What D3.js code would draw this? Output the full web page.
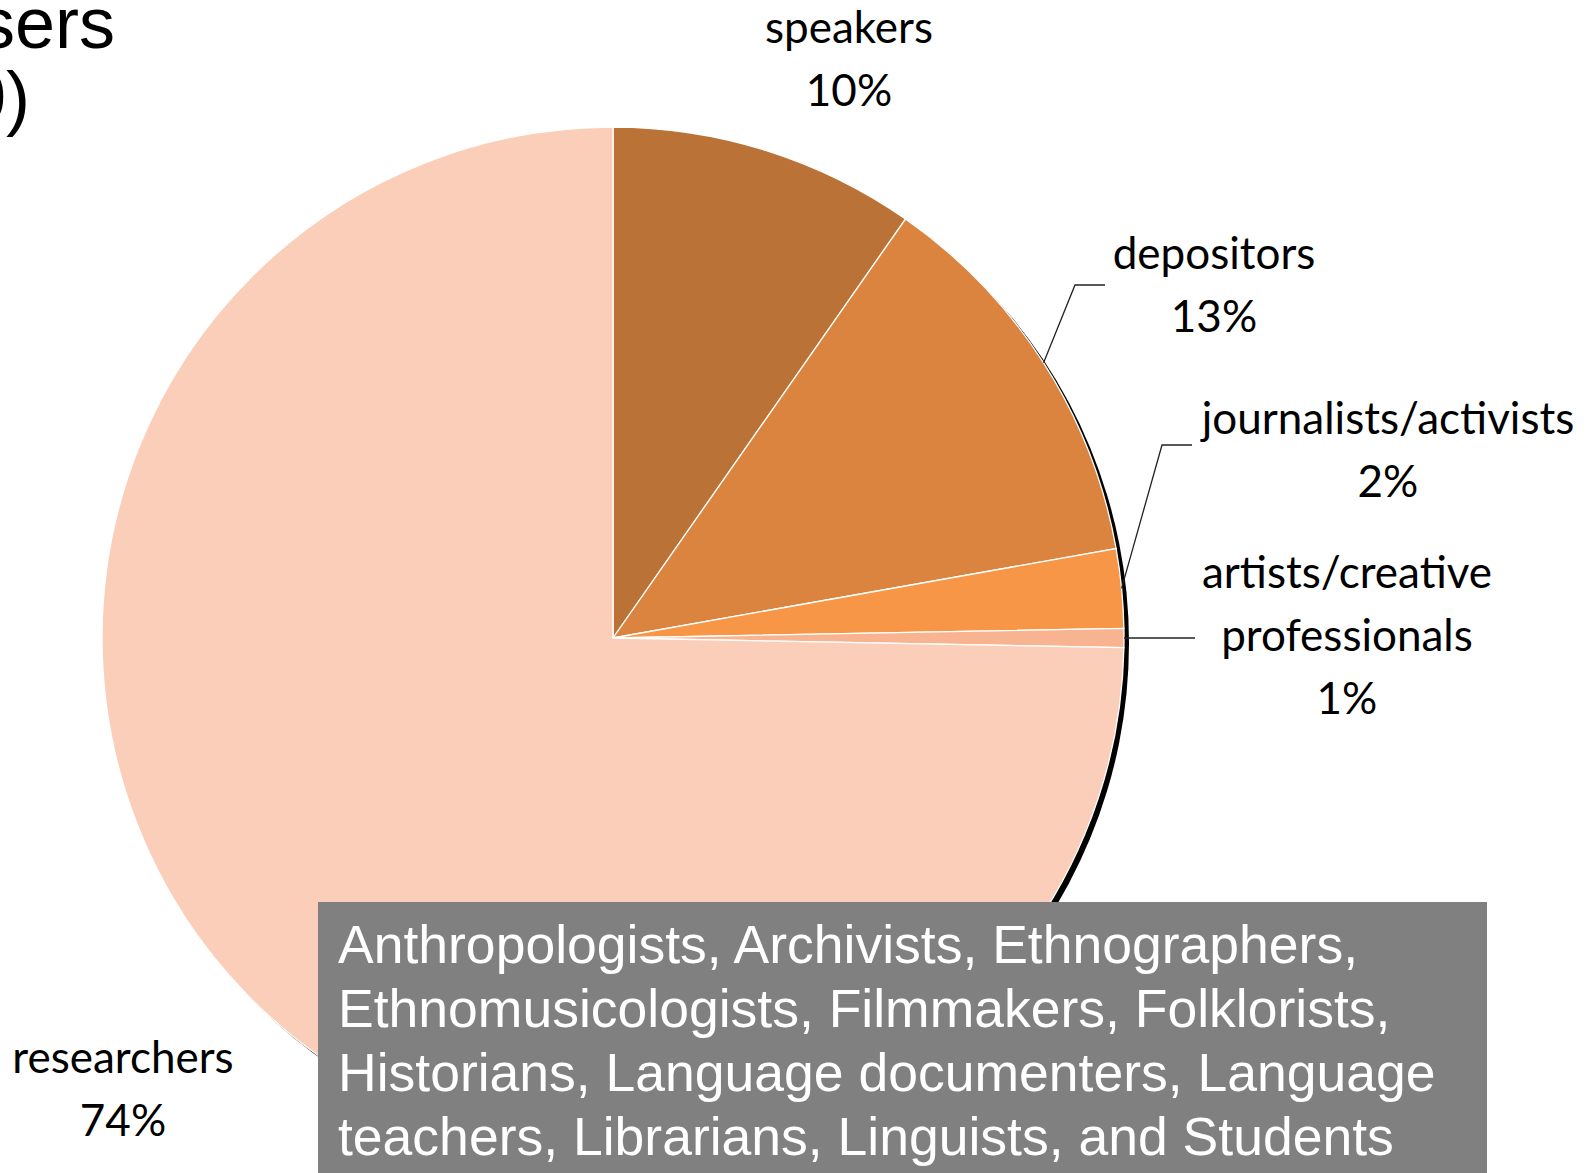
<!DOCTYPE html>
<html>
<head>
<meta charset="utf-8">
<script src="https://cdn.jsdelivr.net/npm/d3@7"></script>
<style>
  body { margin: 0; background: white; }
  svg { display: block; }
</style>
</head>
<body>
<svg id="chart"></svg>
<script>
// slice data (clockwise from 12 o'clock)
var categories = ["speakers", "depositors", "journalists/activists", "artists/creative professionals", "researchers"];
var shares = [9.7, 12.5, 2.5, 0.6, 74.7];           // share
var pctLabels = ["10%", "13%", "2%", "1%", "74%"];   // printed labels
var labelLines = [["speakers"], ["depositors"], ["journalists/activists"], ["artists/creative", "professionals"], ["researchers"]];
var colors = ["#bb7236", "#db843f", "#f69646", "#f8b491", "#fbceb9"];

var boxLines = [
  "Anthropologists, Archivists, Ethnographers,",
  "Ethnomusicologists, Filmmakers, Folklorists,",
  "Historians, Language documenters, Language",
  "teachers, Librarians, Linguists, and Students"
];

var W = 1593, H = 1173;
var cx = 613, cy = 638, r = 511;

// label layout: centre x, first baseline, optional elbow for the leader line
var labelLayout = [
  {x: 849, y: 43},
  {x: 1214, y: 269, elbow: [1075, 285], end: 1105},
  {x: 1388, y: 434, elbow: [1162, 445], end: 1192},
  {x: 1347, y: 588, elbow: null, end: 1195},
  {x: 123, y: 1073}
];
var lineGap = 63;

var svg = d3.select("#chart").attr("width", W).attr("height", H);

// title (cut off at the left edge)
var title = svg.append("g")
  .style("font-family", "'Liberation Sans', Arial, sans-serif")
  .style("font-size", "72px")
  .attr("fill", "#000")
  .attr("text-anchor", "end");
title.append("text").attr("x", 115).attr("y", 48).text("Users");
title.append("text").attr("x", 30).attr("y", 122).text("0)");

var pie = d3.pie().sort(null).value(d => d)(shares);
var arc = d3.arc().innerRadius(0).outerRadius(r);

var g = svg.append("g").attr("transform", "translate(" + cx + "," + cy + ")");

// dark shadow edge
g.append("circle")
  .attr("cx", 5).attr("cy", 5).attr("r", r)
  .attr("fill", "#000");

g.selectAll("path.slice")
  .data(pie)
  .enter().append("path")
  .attr("class", "slice")
  .attr("d", arc)
  .attr("fill", (d, i) => colors[i])
  .attr("stroke", "white")
  .attr("stroke-width", 1.3);

// leader lines
pie.forEach(function(d, i) {
  var lay = labelLayout[i];
  if (lay.end === undefined) return;
  var a = (d.startAngle + d.endAngle) / 2;
  var sx = cx + r * Math.sin(a), sy = cy - r * Math.cos(a);
  var pts = [[sx, sy]];
  if (lay.elbow) {
    pts.push(lay.elbow);
    pts.push([lay.end, lay.elbow[1]]);
  } else {
    pts.push([lay.end, sy]);
  }
  svg.append("path")
    .attr("d", d3.line()(pts))
    .attr("fill", "none")
    .attr("stroke", "#222")
    .attr("stroke-width", 1.3);
});

// slice labels
var labels = svg.append("g")
  .style("font-family", "Lato, 'Open Sans', sans-serif")
  .style("font-size", "44px")
  .attr("fill", "#000")
  .attr("text-anchor", "middle");

categories.forEach(function(c, i) {
  var lay = labelLayout[i];
  var lines = labelLines[i].concat([pctLabels[i]]);
  lines.forEach(function(t, k) {
    labels.append("text")
      .attr("x", lay.x)
      .attr("y", lay.y + k * lineGap)
      .text(t);
  });
});

// grey note box
var box = svg.append("g");
box.append("rect")
  .attr("x", 318).attr("y", 902)
  .attr("width", 1487 - 318).attr("height", H - 902)
  .attr("fill", "#808080");
box.selectAll("text")
  .data(boxLines)
  .enter().append("text")
  .attr("x", 338)
  .attr("y", (d, i) => 963 + i * 64)
  .style("font-family", "'Liberation Sans', Arial, sans-serif")
  .style("font-size", "53.5px")
  .attr("fill", "white")
  .text(d => d);
</script>
</body>
</html>
